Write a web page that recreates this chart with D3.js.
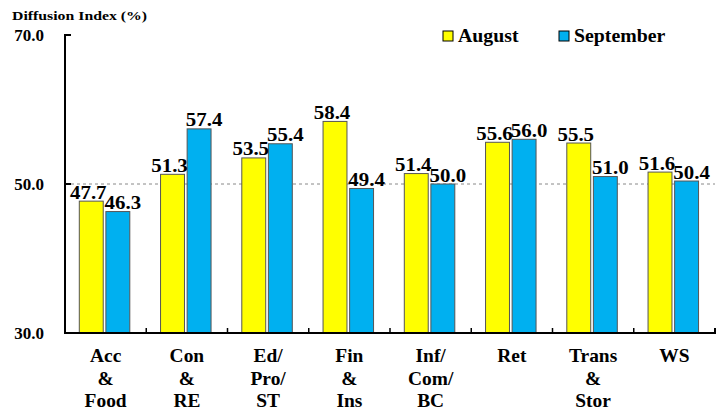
<html>
<head></head>
<body style="margin:0">

<svg id="svg" width="726" height="410"></svg>
<script src="https://d3js.org/d3.v7.min.js"></script>
<script>

var cats = [["Acc","&","Food"], ["Con","&","RE"], ["Ed/","Pro/","ST"], ["Fin","&","Ins"],
            ["Inf/","Com/","BC"], ["Ret"], ["Trans","&","Stor"], ["WS"]];
var series = ["August", "September"];
var august = [47.7, 51.3, 53.5, 58.4, 51.4, 55.6, 55.5, 51.6];
var september = [46.3, 57.4, 55.4, 49.4, 50.0, 56.0, 51.0, 50.4];
var yticks = [30, 50, 70];
var colors = ["#ffff00", "#00b0f0"];

var font = "'Liberation Serif'";
var svg = d3.select("#svg");
var ml = 65, mr = 715, mt = 35, mb = 333;

var x0 = d3.scaleBand().domain(d3.range(cats.length)).range([ml, mr]);
var x1 = d3.scaleBand().domain(series).range([14.3, 64.8]).paddingInner(0.1);
var y = d3.scaleLinear().domain([30, 70]).range([mb, mt]);

// bold serif text, a bit stretched sideways like the original
function txt(g, x, yy, s, size, sx, anchor) {
  return g.append("text")
    .attr("transform", "translate(" + x + "," + yy + ") scale(" + sx + ",1)")
    .attr("text-anchor", anchor || "middle")
    .style("font-family", font).style("font-weight", "bold")
    .style("font-size", size + "px").style("fill", "#000")
    .text(s);
}

// title
txt(svg, 12, 20, "Diffusion Index (%)", 13.5, 1.17, "start");

// 50 reference line
svg.append("line")
  .attr("x1", ml).attr("x2", mr).attr("y1", y(50)).attr("y2", y(50))
  .style("stroke", "#888").style("stroke-width", 1).style("stroke-dasharray", "3,3");

// bars
var data = cats.map((c, i) => ({ i: i, vals: [august[i], september[i]] }));
var grp = svg.selectAll("g.grp").data(data).join("g").classed("grp", true)
  .attr("transform", d => "translate(" + x0(d.i) + ",0)");

grp.selectAll("rect").data(d => d.vals.map((v, k) => ({ v: v, k: k })))
  .join("rect")
  .attr("x", d => x1(series[d.k]))
  .attr("y", d => y(d.v))
  .attr("width", x1.bandwidth())
  .attr("height", d => y(30) - y(d.v))
  .style("fill", d => colors[d.k])
  .style("stroke", "#555").style("stroke-width", 1);

// labels get nudged apart a little, as in the original
var nudge = [-3, 5];
grp.each(function(d) {
  var g = d3.select(this);
  d.vals.forEach((v, k) => {
    txt(g, x1(series[k]) + x1.bandwidth() / 2 + nudge[k], y(v) - 2.5, v.toFixed(1), 18.5, 1.13);
  });
  cats[d.i].forEach((s, j) => {
    txt(g, x0.bandwidth() / 2, 362 + j * 22.5, s, 18, 1.08);
  });
});

// axes
svg.append("path")
  .attr("d", "M" + (ml + 6) + "," + mt + "H" + ml + "V" + mb + "H" + mr + "V" + (mb - 5))
  .style("fill", "none").style("stroke", "#000").style("stroke-width", 2);

yticks.forEach(t => {
  svg.append("line").attr("x1", ml).attr("x2", ml + 6).attr("y1", y(t)).attr("y2", y(t))
    .style("stroke", "#000").style("stroke-width", 2);
  txt(svg, 44, y(t) + 6, t.toFixed(1), 17, 1.0, "end");
});

d3.range(1, cats.length).forEach(i => {
  svg.append("line").attr("x1", x0(i)).attr("x2", x0(i)).attr("y1", mb).attr("y2", mb - 5)
    .style("stroke", "#000").style("stroke-width", 1.5);
});

// legend
var leg = svg.append("g");
[[443, 0], [559, 1]].forEach(([lx, k]) => {
  leg.append("rect").attr("x", lx).attr("y", 31).attr("width", 10).attr("height", 10)
    .style("fill", colors[k]).style("stroke", "#000").style("stroke-width", 1);
  txt(leg, lx + 15, 42, series[k], 18, 1.1, "start");
});

</script>
</body>
</html>
